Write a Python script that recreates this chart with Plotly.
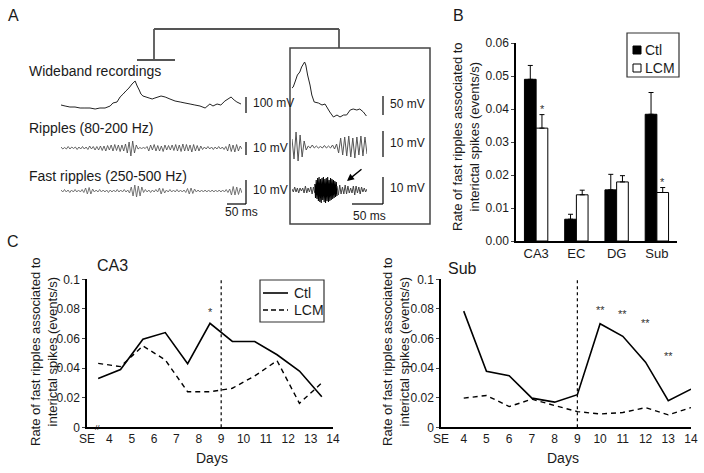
"""Fast ripples figure: traces (A), bar summary (B) and daily time course (C)."""

import plotly.graph_objects as go

W, H = 704, 473
FONT = "Arial, Liberation Sans, sans-serif"
INK = "#1a1a1a"

# ---- Panel A: example traces (display units) ----
wide_t = [0, 12, 26, 41, 56, 70, 85, 100, 114, 129, 144, 152, 164, 173, 182, 190,
          199, 208, 217, 223, 229, 234, 240, 249, 258, 267, 275, 284, 293, 305, 319,
          334, 349, 363, 378, 392, 407, 422, 436, 445, 457, 468, 480, 489, 498, 507,
          515, 527]
wide_v = [2, 1, 0, 0, -1, -1, -1, -2, -1, -1, 1, 4, 5, 10, 13, 16, 19, 23, 26, 21, 17,
          13, 11, 10, 9, 8, 9, 10, 11, 10, 8, 6, 5, 4, 3, 2, 1, -1, 3, 1, 3, 2, 6, 8,
          10, 7, 5, 3]
ripple_v = [1, -1, 0.5, -1, 1.5, -1, 1, -0.5, 1, -1.5, 1, -1, 1.5, -1, 1, -1.5, 2, -1,
            1.5, -2, 1.5, -2,
            2, -2.5, 2, -3, 2.5, -2, 3, -3, 3.5, -2.5, 3, -3.5, 3, -3,
            4, -5, 6, -8, 7, -5, 3,
            -1, 0.5, -0.5, 0.5, -0.5,
            1.5, -3, 3, -2, 3.5, -3, 2.5, -3, 2, -3.5, 3, -2, 2.5, -2,
            3, -2.5, 3.5, -3, 3, -3.5, 4, -3, 3.5, -3, 3, -4, 3.5, -3, 2.5, -3, 2,
            -1.5, 1, -1, 1.5, -1, 1, -1.5, 1, -1, 1.5, -1, 1, -1.5, 1.5,
            -3, 4, -3.5, 3, -4, 3.5, -3, 2, -1]
fast_v = [1, -1, 1.5, -1, 1, -1.5, 1, -1, 1.5, -1, 1, -1, 1.5, -1.5,
          3, -3, 3.5, -3, 2,
          -1, 1, -1, 1.5, -1, 1, -1, 1, -1.5, 1, -1, 1, -1, 1.5, -1, 1, -1, 1.5, -1, 1, -2,
          4, -5, 6, -6, 5, -5, 4,
          -1.5, 1.5, -1, 1, -1.5, 1, -1, 1.5, -1,
          3, -3, 2.5, -2,
          1, -1, 1.5, -1, 1, -1, 1.5, -1, 1, -1, 1, -1.5,
          2.5, -3, 3, -2.5, 2,
          -1, 1, -1, 1, -1, 1, -1, 1, -1, 1, -1, 1, -1, 1, -1, 1, -1, 1.5, -1.5, 2,
          -4, 4.5, -4, 4, -3.5, 3, -2]
inset_wide_t = [0, 2, 5, 9, 13, 16, 21, 23, 26, 30, 33, 37, 44, 50, 55, 58, 63, 69,
                75, 80, 86, 91, 97, 102, 108, 113, 119, 124]
inset_wide_v = [12, 13, 18, 25, 28, 33, 38, 35, 25, 15, 5, -2, -3, -5, -4, -7, -12,
                -17, -15, -17, -15, -15, -10, -9, -10, -9, -12, -16]
inset_ripple_v = [8, -12, 15, -14, 12, -10, 6, -3,
                  1, -1, 2, -1, 1, -1, 0.5, -1, 1.5, -1, 1, -1, 2, -2, 3,
                  -6, 9, -8, 10, -9, 11, -10, 9, -11, 10, -8, 11, -9, 10, -7]
inset_fast_pre = [1, -2, 3, -2, 2, -3, 2, -1, 2, -3, 4, -3, 2, -2, 3, -4, 3, -3]
inset_fast_burst = [6, -8, 10, -9, 12, -11, 13, -12, 11, -13, 12, -10, 13, -12, 11, -13,
                    12, -11, 13, -12, 10, -11, 12, -10, 11, -9, 10, -8, 9, -7, 8, -6]
inset_fast_post = [4, -5, 5, -4, 3, -4, 5, -4, 4, -3, 2, -3, 4, -5, 4, -3, 3, -4, 3, -2,
                   2, -2, 1]

# ---- Panel B ----
regions = ["CA3", "EC", "DG", "Sub"]
b_ctl = [0.049, 0.0066, 0.0155, 0.0384]
b_ctl_err = [0.0042, 0.0015, 0.0047, 0.0066]
b_lcm = [0.0342, 0.014, 0.0179, 0.0147]
b_lcm_err = [0.0041, 0.0014, 0.0019, 0.0015]
b_sig = ["*", "", "", "*"]

# ---- Panel C ----
day_ticks = [3, 4, 5, 6, 7, 8, 9, 10, 11, 12, 13, 14]
day_labels = ["SE", "4", "5", "6", "7", "8", "9", "10", "11", "12", "13", "14"]
ca3_days = [3.5, 4.5, 5.5, 6.5, 7.5, 8.5, 9.5, 10.5, 11.5, 12.5, 13.5]
ca3_ctl = [0.033, 0.039, 0.0595, 0.064, 0.043, 0.0703, 0.058, 0.058, 0.049, 0.038, 0.0207]
ca3_lcm = [0.0432, 0.041, 0.055, 0.0455, 0.024, 0.024, 0.0264, 0.0347, 0.045, 0.0162, 0.030]
ca3_sig_days, ca3_sig_y = [8.5], [0.078]
sub_days = [4, 5, 6, 7, 8, 9, 10, 11, 12, 13, 14]
sub_ctl = [0.0785, 0.0378, 0.0348, 0.0197, 0.017, 0.022, 0.070, 0.0615, 0.044, 0.018, 0.0258]
sub_lcm = [0.0197, 0.0215, 0.014, 0.019, 0.0147, 0.0106, 0.009, 0.010, 0.0133, 0.0084, 0.0133]
sub_sig_days = [10, 11, 12, 13]
sub_sig_y = [0.079, 0.0765, 0.0705, 0.0485]
c_yticks = [0, 0.02, 0.04, 0.06, 0.08, 0.1]
c_ylabels = ["0", "0.02", "0.04", "0.06", "0.08", "0.1"]


def px(x):
    return x / W


def py(y):
    return 1 - y / H


def spread(values, t0, t1):
    n = len(values)
    return [t0 + (t1 - t0) * i / (n - 1) for i in range(n)]


def shifted(values, base):
    return [base + v for v in values]


def trace_line(color, width):
    # keep every sample: line simplification drops parts of the fast oscillations
    return dict(color=color, width=width, simplify=False)


fig = go.Figure()

# Panel A traces (baselines in display units on the hidden y4 axis)
row = {"wide": 108, "ripple": 67, "fast": 24, "i_wide": 115, "i_ripple": 68, "i_fast": 25}
trace_a = dict(mode="lines", showlegend=False, hoverinfo="skip")
fig.add_trace(go.Scatter(x=wide_t, y=shifted(wide_v, row["wide"]), xaxis="x4", yaxis="y4",
                         line=trace_line("#222", 1), **trace_a))
fig.add_trace(go.Scatter(x=spread(ripple_v, 0, 530), y=shifted(ripple_v, row["ripple"]),
                         xaxis="x4", yaxis="y4", line=trace_line("#444", 0.8), **trace_a))
fig.add_trace(go.Scatter(x=spread(fast_v, 0, 530), y=shifted(fast_v, row["fast"]),
                         xaxis="x4", yaxis="y4", line=trace_line("#666", 0.9), **trace_a))
fig.add_trace(go.Scatter(x=inset_wide_t, y=shifted(inset_wide_v, row["i_wide"]),
                         xaxis="x5", yaxis="y4", line=trace_line("#222", 1), **trace_a))
fig.add_trace(go.Scatter(x=spread(inset_ripple_v, 0, 125), y=shifted(inset_ripple_v, row["i_ripple"]),
                         xaxis="x5", yaxis="y4", line=trace_line("#555", 1), **trace_a))
fig.add_trace(go.Scatter(x=spread(inset_fast_pre, 0, 38), y=shifted(inset_fast_pre, row["i_fast"]),
                         xaxis="x5", yaxis="y4", line=trace_line("#444", 1), **trace_a))
fig.add_trace(go.Scatter(x=spread(inset_fast_burst, 38, 75), y=shifted(inset_fast_burst, row["i_fast"]),
                         xaxis="x5", yaxis="y4", line=trace_line("#000", 1.1), **trace_a))
fig.add_trace(go.Scatter(x=spread(inset_fast_post, 75, 125), y=shifted(inset_fast_post, row["i_fast"]),
                         xaxis="x5", yaxis="y4", line=trace_line("#444", 1), **trace_a))

# Panel B bars
err = dict(type="data", symmetric=False, color="#000", thickness=1, width=2.5)
fig.add_trace(go.Bar(x=regions, y=b_ctl, name="Ctl", showlegend=False,
                     marker=dict(color="#000", line=dict(color="#000", width=1)),
                     error_y=dict(array=b_ctl_err, arrayminus=[0] * 4, **err)))
fig.add_trace(go.Bar(x=regions, y=b_lcm, name="LCM", showlegend=False,
                     marker=dict(color="#fff", line=dict(color="#000", width=1)),
                     error_y=dict(array=b_lcm_err, arrayminus=[0] * 4, **err)))

# Panel C lines
solid = dict(color="#000", width=1.6)
dashed = dict(color="#000", width=1.4, dash="5px,4px")
fig.add_trace(go.Scatter(x=ca3_days, y=ca3_ctl, mode="lines", name="Ctl", showlegend=False,
                         xaxis="x2", yaxis="y2", line=solid))
fig.add_trace(go.Scatter(x=ca3_days, y=ca3_lcm, mode="lines", name="LCM", showlegend=False,
                         xaxis="x2", yaxis="y2", line=dashed))
fig.add_trace(go.Scatter(x=sub_days, y=sub_ctl, mode="lines", name="Ctl", showlegend=False,
                         xaxis="x3", yaxis="y3", line=solid))
fig.add_trace(go.Scatter(x=sub_days, y=sub_lcm, mode="lines", name="LCM", showlegend=False,
                         xaxis="x3", yaxis="y3", line=dashed))

ann = []


def text(s, x, y, size=13, xanchor="left", angle=0, color=INK):
    ann.append(dict(text=s, x=px(x), y=py(y), xref="paper", yref="paper", showarrow=False,
                    xanchor=xanchor, yanchor="middle", textangle=angle,
                    font=dict(family=FONT, size=size, color=color)))


# panel letters
text("A", 6, 15, 16)
text("B", 451, 15, 16)
text("C", 5, 241, 16)

# panel A labels
text("Wideband recordings", 27, 71, 14)
text("Ripples (80-200 Hz)", 27, 128, 14)
text("Fast ripples (250-500 Hz)", 27, 176, 14)
text("100 mV", 251, 103, 12)
text("10 mV", 251, 148, 12)
text("10 mV", 251, 190, 12)
text("50 ms", 241, 212, 12, "center")
text("50 mV", 388, 104, 12)
text("10 mV", 388, 143, 12)
text("10 mV", 388, 188, 12)
text("50 ms", 369, 216, 12, "center")
ann.append(dict(x=px(347), y=py(181), xref="paper", yref="paper", ax=16, ay=-13,
                showarrow=True, arrowhead=2, arrowsize=1, arrowwidth=1.4, arrowcolor="#000",
                text=""))

# axis titles
ytitle = "Rate of fast ripples associated to<br>interictal spikes (events/s)"
text(ytitle, 466, 137, 13, "center", -90)
text(ytitle, 44, 352, 13, "center", -90)
text(ytitle, 396, 352, 13, "center", -90)
text("Days", 212, 458, 14, "center")
text("Days", 563, 458, 14, "center")
text("CA3", 95, 265, 16)
text("Sub", 446, 268, 16)
text("//", 97, 427, 8, "center")

# legends (drawn by hand to match the compact boxes)
text("Ctl", 643, 50, 14)
text("LCM", 643, 68, 14)
text("Ctl", 292, 293, 14)
text("LCM", 292, 310, 14)

# significance marks
sig_font = dict(family=FONT, size=11, color="#333")
for reg, s, v, e in zip(regions, b_sig, b_lcm, b_lcm_err):
    if s:
        ann.append(dict(text=s, x=reg, y=v + e, xref="x", yref="y", xshift=6, yshift=-2,
                        showarrow=False, yanchor="bottom", font=sig_font))
for d, yv in zip(ca3_sig_days, ca3_sig_y):
    ann.append(dict(text="*", x=d, y=yv, xref="x2", yref="y2", showarrow=False, font=sig_font))
for d, yv in zip(sub_sig_days, sub_sig_y):
    ann.append(dict(text="**", x=d, y=yv, xref="x3", yref="y3", showarrow=False, font=sig_font))

# decorative shapes (bracket, inset box, scale bars, legends, day-9 markers)
shapes = []


def seg(x0, y0, x1, y1, color="#000", width=1.2, dash="solid"):
    shapes.append(dict(type="line", xref="paper", yref="paper", x0=px(x0), y0=py(y0),
                       x1=px(x1), y1=py(y1), line=dict(color=color, width=width, dash=dash)))


def box(x0, y0, x1, y1, line="#333", fill="rgba(0,0,0,0)", width=1.2):
    shapes.append(dict(type="rect", xref="paper", yref="paper", x0=px(x0), y0=py(y0),
                       x1=px(x1), y1=py(y1), fillcolor=fill, line=dict(color=line, width=width)))


seg(154, 29, 339, 29, "#555", 1.8)
seg(154, 29, 154, 60, "#555", 1.8)
seg(137, 60, 175, 60, "#555", 1.8)
seg(339, 29, 339, 48, "#555", 1.8)
box(290, 48, 430, 224, "#444", width=1.5)
seg(246, 97, 246, 113)
seg(246, 142, 246, 155)
seg(246, 180, 246, 204)
seg(227, 204, 246, 204)
seg(383, 96, 383, 115)
seg(383, 131, 383, 157)
seg(383, 177, 383, 204)
seg(352, 204, 383, 204)

box(627, 33, 679, 77)
box(633, 46, 641, 54, "#000", "#000", 1)
box(633, 64, 641, 72, "#000", "#fff", 1)
box(260, 280, 324, 322)
seg(263, 293, 288, 293, width=1.6)
seg(263, 310, 288, 310, width=1.4, dash="5px,3px")

for xa, ya in (("x2", "y2"), ("x3", "y3")):
    shapes.append(dict(type="line", xref=xa, yref=ya, x0=9, x1=9, y0=0, y1=0.1,
                       line=dict(color="#000", width=1.2, dash="dot")))

axis_font = dict(family=FONT, size=12, color=INK)
hidden = dict(visible=False, showgrid=False, zeroline=False, fixedrange=True)
c_x = dict(range=[3, 14], tickvals=day_ticks, ticktext=day_labels, showline=True,
           linecolor="#000", linewidth=1.5, ticks="", showgrid=False, zeroline=False,
           tickfont=axis_font, automargin=False)
c_y = dict(range=[0, 0.1], tickvals=c_yticks, ticktext=c_ylabels, showline=True,
           linecolor="#000", linewidth=1.5, ticks="outside", ticklen=3, showgrid=False,
           zeroline=False, tickfont=axis_font, automargin=False)

fig.update_layout(
    width=W, height=H,
    margin=dict(l=0, r=0, t=0, b=0, pad=0, autoexpand=False),
    paper_bgcolor="#fff", plot_bgcolor="rgba(0,0,0,0)",
    font=dict(family=FONT, color=INK),
    showlegend=False,
    barmode="group", bargap=0.42, bargroupgap=0,
    xaxis=dict(domain=[px(516), px(677)], range=[-0.5, 3.5], showline=True, linecolor="#000",
               linewidth=1.5, ticks="", showgrid=False, automargin=False,
               tickfont=dict(family=FONT, size=13, color=INK)),
    yaxis=dict(domain=[py(241), py(43)], range=[0, 0.06], dtick=0.01, showline=True,
               linecolor="#000", linewidth=1.5, ticks="outside", ticklen=3, showgrid=False,
               zeroline=False, tickformat=".2f", tickfont=axis_font, automargin=False),
    xaxis2=dict(domain=[px(87), px(333)], anchor="y2", **c_x),
    yaxis2=dict(domain=[py(427.3), py(279.3)], anchor="x2", **c_y),
    xaxis3=dict(domain=[px(441), px(691)], anchor="y3", **c_x),
    yaxis3=dict(domain=[py(427.3), py(279.3)], anchor="x3", **c_y),
    xaxis4=dict(domain=[px(61), px(242)], range=[0, 530], anchor="y4", **hidden),
    xaxis5=dict(domain=[px(292), px(367)], range=[0, 125], anchor="y4", **hidden),
    yaxis4=dict(domain=[py(215), py(40)], range=[0, 175], anchor="x4", **hidden),
    annotations=ann,
    shapes=shapes,
)

# the page body carries a default 8px margin; drop it so the figure sits at 0,0
fig.write_html("out.html", config={"displayModeBar": False},
               post_script="document.body.style.margin='0';")
